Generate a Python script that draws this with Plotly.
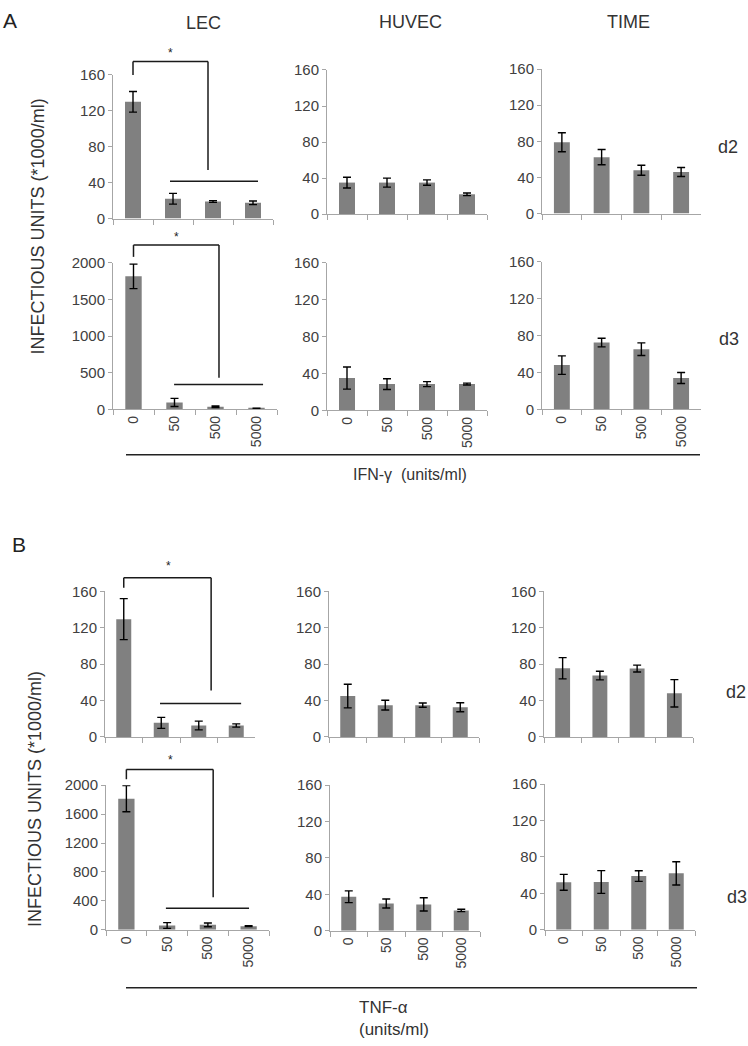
import plotly.graph_objects as go

W, H = 748, 1046

categories = ["0", "50", "500", "5000"]

# Panel A (IFN-gamma)
A_d2_LEC = [130, 22, 19, 17.5]
A_d2_LEC_err = [11.5, 6, 1, 2]
A_d2_HUVEC = [35, 35, 35, 22]
A_d2_HUVEC_err = [6, 5, 3, 1.5]
A_d2_TIME = [79, 62.5, 48, 46]
A_d2_TIME_err = [10.5, 8.5, 5.5, 5]
A_d3_LEC = [1815, 95, 36, 13]
A_d3_LEC_err = [167, 55, 10, 3]
A_d3_HUVEC = [35, 28.5, 28.5, 28.5]
A_d3_HUVEC_err = [12, 5.8, 2.7, 1]
A_d3_TIME = [48, 72.5, 65.3, 34]
A_d3_TIME_err = [10, 4.7, 6.8, 6]

# Panel B (TNF-alpha)
B_d2_LEC = [129.5, 15.5, 12.6, 12.6]
B_d2_LEC_err = [22.5, 6, 4.8, 1.8]
B_d2_HUVEC = [45, 35, 35, 32.7]
B_d2_HUVEC_err = [13, 5.4, 2.4, 4.9]
B_d2_TIME = [75.5, 67.5, 75.2, 48]
B_d2_TIME_err = [11.7, 4.8, 3.8, 15]
B_d3_LEC = [1814, 59, 68, 50]
B_d3_LEC_err = [181, 40, 25, 5]
B_d3_HUVEC = [37.4, 30, 29, 22.3]
B_d3_HUVEC_err = [6.5, 5, 7.3, 1.3]
B_d3_TIME = [52.2, 52.5, 59, 62]
B_d3_TIME_err = [8.7, 12.5, 5.8, 12.8]

FONT = "Arial, Liberation Sans, sans-serif"
BAR = "#808080"
AX = "#a6a6a6"
TXT = "#404040"


def dx(p0, p1):
    return [p0 / W, p1 / W]


def dy(top, bottom):
    return [1 - bottom / H, 1 - top / H]


# (values, errors, x-px, y-px, ymax, dtick, show tick labels)
panels = [
    (A_d2_LEC, A_d2_LEC_err, (113, 273), (67, 213), 160, 40, False),
    (A_d2_HUVEC, A_d2_HUVEC_err, (327, 487), (62, 208.5), 160, 40, False),
    (A_d2_TIME, A_d2_TIME_err, (542, 701), (61, 208), 160, 40, False),
    (A_d3_LEC, A_d3_LEC_err, (113, 277), (258, 407), 2000, 500, True),
    (A_d3_HUVEC, A_d3_HUVEC_err, (327, 487), (258, 408), 160, 40, True),
    (A_d3_TIME, A_d3_TIME_err, (542, 701), (257, 407), 160, 40, True),
    (B_d2_LEC, B_d2_LEC_err, (105, 255), (592, 740), 160, 40, False),
    (B_d2_HUVEC, B_d2_HUVEC_err, (329, 479), (592, 740), 160, 40, False),
    (B_d2_TIME, B_d2_TIME_err, (544, 693), (592, 740), 160, 40, False),
    (B_d3_LEC, B_d3_LEC_err, (106, 269), (789, 936), 2000, 400, True),
    (B_d3_HUVEC, B_d3_HUVEC_err, (330, 480), (789, 937), 160, 40, True),
    (B_d3_TIME, B_d3_TIME_err, (545, 695), (788, 936), 160, 40, True),
]

fig = go.Figure()
layout = {}
for i, (vals, errs, xp, yp, ymax, dt, showlab) in enumerate(panels):
    n = i + 1
    sfx = "" if n == 1 else str(n)
    fig.add_trace(go.Bar(
        x=categories, y=vals,
        xaxis="x" + sfx, yaxis="y" + sfx,
        marker=dict(color=BAR, line=dict(width=0)),
        error_y=dict(type="data", array=errs, color="black", thickness=1.4, width=4),
        showlegend=False, hoverinfo="skip",
    ))
    layout["xaxis" + sfx] = dict(
        domain=dx(*xp), anchor="y" + sfx, type="category",
        categoryorder="array", categoryarray=categories,
        range=[-0.5, 3.5],
        showline=True, linecolor=AX, linewidth=1,
        ticks="outside", tickson="boundaries", ticklen=5, tickcolor=AX,
        showticklabels=showlab, tickangle=-90,
        tickfont=dict(family=FONT, size=14, color=TXT),
        showgrid=False, zeroline=False, fixedrange=True,
    )
    layout["yaxis" + sfx] = dict(
        domain=dy(*yp), anchor="x" + sfx,
        range=[0, ymax], dtick=dt, tick0=0,
        showline=True, linecolor=AX, linewidth=1,
        ticks="outside", ticklen=4, tickcolor=AX,
        tickfont=dict(family=FONT, size=15, color=TXT),
        showgrid=False, zeroline=False, fixedrange=True,
    )

fig.update_layout(**layout)

shapes = []
annotations = []

# significance brackets: (axis n, ymax, right_x, top, left_bottom, right_bottom,
#                         line_y, line_x0, line_x1, star_x, star_y)
brackets = [
    (1, 160, 1.875, 175, 160, 54, 41.6, 0.925, 3.125, 0.94, 184),
    (4, 2000, 2.085, 2242, 2081, 430, 340, 0.99, 3.16, 1.06, 2349),
    (7, 160, 2.33, 175, 164, 51, 36.7, 0.967, 3.13, 1.2, 188),
    (10, 2000, 2.13, 2218, 2082, 449, 299, 0.97, 3.01, 1.08, 2354),
]


def xd(idx):
    return (idx + 0.5) / 4


for (n, ymax, rx, top, lb, rb, ly, lx0, lx1, sx, sy) in brackets:
    sfx = "" if n == 1 else str(n)
    xr, yr = "x" + sfx + " domain", "y" + sfx + " domain"
    ln = dict(color="#1a1a1a", width=1.5)
    shapes += [
        dict(type="line", xref=xr, yref=yr, x0=xd(0), x1=xd(0), y0=lb / ymax, y1=top / ymax, line=ln),
        dict(type="line", xref=xr, yref=yr, x0=xd(0), x1=xd(rx), y0=top / ymax, y1=top / ymax, line=ln),
        dict(type="line", xref=xr, yref=yr, x0=xd(rx), x1=xd(rx), y0=top / ymax, y1=rb / ymax, line=ln),
        dict(type="line", xref=xr, yref=yr, x0=xd(lx0), x1=xd(lx1), y0=ly / ymax, y1=ly / ymax, line=ln),
    ]
    annotations.append(dict(xref=xr, yref=yr, x=xd(sx), y=sy / ymax, text="*",
                            showarrow=False, font=dict(family=FONT, size=12, color="#222"),
                            xanchor="center", yanchor="middle"))

# separator lines under each panel
shapes += [
    dict(type="line", xref="paper", yref="paper", x0=126 / W, x1=700 / W,
         y0=1 - 453 / H, y1=1 - 453 / H, line=dict(color="#222", width=1.5)),
    dict(type="line", xref="paper", yref="paper", x0=126 / W, x1=697 / W,
         y0=1 - 995 / H, y1=1 - 995 / H, line=dict(color="#222", width=1.5)),
]


def txt(text, px, py, size, xanchor="center", angle=0, color="#333"):
    annotations.append(dict(xref="paper", yref="paper", x=px / W, y=1 - py / H, text=text,
                            showarrow=False, xanchor=xanchor, yanchor="middle", textangle=angle,
                            font=dict(family=FONT, size=size, color=color)))


txt("A", 10, 12, 21, color="#222")
txt("B", 19, 544, 21, color="#222")
txt("LEC", 204, 14, 18)
txt("HUVEC", 410, 13, 18)
txt("TIME", 628, 13, 18)
txt("d2", 728, 140, 18)
txt("d3", 729, 335, 18)
txt("d2", 736, 694, 18)
txt("d3", 737, 903, 18)
txt("INFECTIOUS UNITS (*1000/ml)", 38, 221, 18, angle=-90)
txt("INFECTIOUS UNITS (*1000/ml)", 35, 803, 18, angle=-90)
txt("IFN-γ  (units/ml)", 410, 473, 16)
txt("TNF-α", 357, 1015, 17, xanchor="left")
txt("(units/ml)", 357, 1037, 17, xanchor="left")

fig.update_layout(
    width=W, height=H,
    margin=dict(l=0, r=0, t=0, b=0),
    paper_bgcolor="white", plot_bgcolor="white",
    bargap=0.6, showlegend=False,
    shapes=shapes, annotations=annotations,
    font=dict(family=FONT, color=TXT),
)

fig.write_html("out.html", post_script="document.body.style.margin='0';", config={"displayModeBar": False})
